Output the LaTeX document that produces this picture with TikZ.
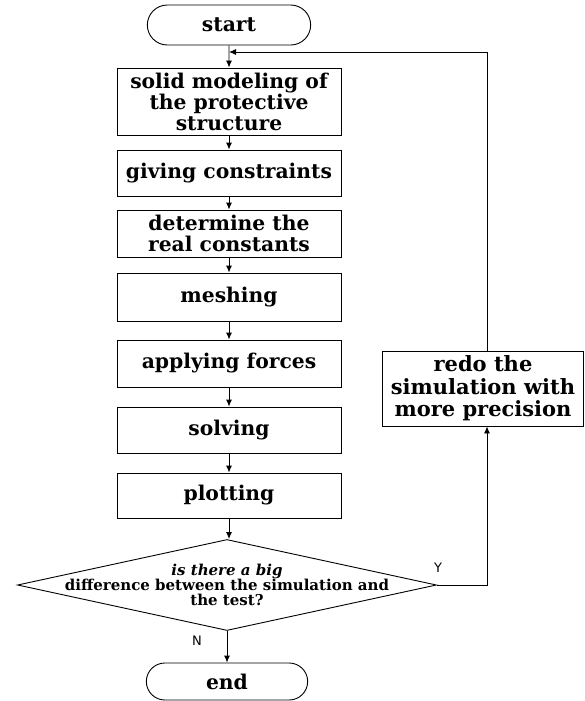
\documentclass[tikz,border=0pt]{standalone}
\usepackage{fontspec}
\setmainfont{DejaVu Serif}
\setsansfont{DejaVu Sans}
\usetikzlibrary{calc,positioning,arrows.meta,shapes}

\begin{document}
\begin{tikzpicture}[x=1pt,y=-1pt,line width=0.9pt,
		stepbox/.style={draw,rectangle,minimum width=224pt,inner sep=0pt,align=center,
			font=\fontsize{20.3}{21}\selectfont\bfseries},
		termbox/.style={draw,rounded rectangle,minimum width=170pt,minimum height=40pt,
			font=\fontsize{20.3}{21}\selectfont\bfseries},
		decide/.style={draw,diamond,minimum width=419pt,minimum height=91pt,inner sep=0pt},
		qtext/.style={align=center,font=\fontsize{15}{15}\selectfont\bfseries},
		yn/.style={font=\fontsize{13}{15}\selectfont\sffamily},
		line/.style={-{Latex[length=7pt,width=6pt]}}]
		\useasboundingbox (0,0) rectangle (584,701);

		% main column
		\node[termbox] (start) at (229,25) {start};
		\node[stepbox,minimum height=67pt] (model) at (229,101.5) {solid modeling of\\the protective\\structure};
		\node[stepbox,minimum height=46pt] (constr) at (229,173) {giving constraints};
		\node[stepbox,minimum height=47pt] (real) at (229,233.5) {determine the\\real constants};
		\node[stepbox,minimum height=48pt] (mesh) at (229,297) {meshing};
		\node[stepbox,minimum height=47pt] (force) at (229,363.5) {applying forces};
		\node[stepbox,minimum height=46pt] (solve) at (229,430) {solving};
		\node[stepbox,minimum height=45pt] (plot) at (229,495.5) {plotting};
		\node[decide] (test) at (227,585) {};
		\node[qtext] (testtxt) at (test.center) {\textit{is there a big}\\difference between the simulation and\\the test?};
		\node[termbox,minimum width=168pt,minimum height=37pt] (end) at (227,681.5) {end};

		% loop back
		\node[stepbox,minimum width=201pt,minimum height=75pt,font=\fontsize{21}{22.5}\selectfont\bfseries] (redo) at (483,388.5) {redo the\\simulation with\\more precision};
		\coordinate (back) at (487,52);

		\draw[line] (start) -- (model);
		\draw[line] (model) -- (constr);
		\draw[line] (constr) -- (real);
		\draw[line] (real) -- (mesh);
		\draw[line] (mesh) -- (force);
		\draw[line] (force) -- (solve);
		\draw[line] (solve) -- (plot);
		\draw[line] (plot.south) -- (plot.south |- test.north);
		\draw[line] (test.south) -- (end.north);
		\draw[line] (test.east) -| (redo.south -| back);
		\draw[line] (redo.north -| back) -- (back) -- (back -| start.south);

		\node[yn] (yes) at (438,568) {Y};
		\node[yn] (no) at (197,641) {N};
	\end{tikzpicture}
\end{document}
